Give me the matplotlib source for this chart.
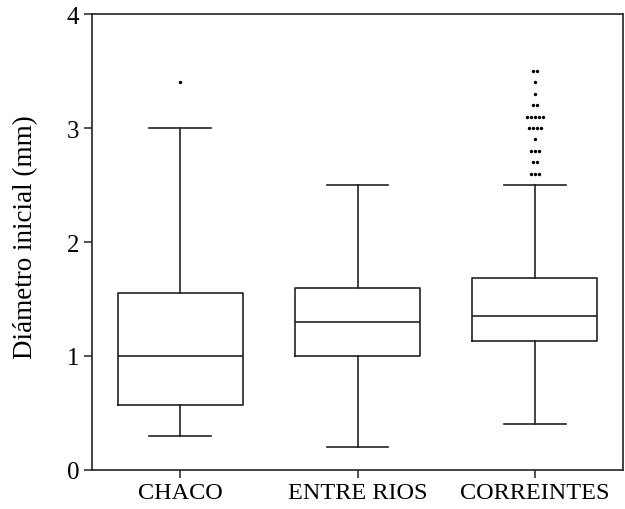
import matplotlib
matplotlib.use("Agg")
import matplotlib.pyplot as plt
import numpy as np

plt.rcParams['font.family'] = ['Liberation Serif', 'DejaVu Serif']

categories = ["CHACO", "ENTRE RIOS", "CORREINTES"]
whis_low = [0.30, 0.20, 0.40]
q1 = [0.57, 1.00, 1.13]
median = [1.00, 1.30, 1.35]
q3 = [1.55, 1.60, 1.68]
whis_high = [3.00, 2.50, 2.50]
# outliers: value -> count (horizontally spread dots)
outlier_values = [
    [3.4],
    [],
    [3.5, 3.4, 3.3, 3.2, 3.1, 3.0, 2.9, 2.8, 2.7, 2.6],
]
outlier_counts = [
    [1],
    [],
    [2, 1, 1, 2, 5, 4, 1, 3, 2, 3],
]

fig = plt.figure(figsize=(6.25, 5.1), dpi=100)
ax = fig.add_axes([0.147, 0.0765, 0.85, 0.894])

stats = []
for i in range(len(categories)):
    stats.append(dict(med=median[i], q1=q1[i], q3=q3[i],
                      whislo=whis_low[i], whishi=whis_high[i],
                      fliers=[], label=categories[i]))

lw = 1.2
col = '#222222'
ax.bxp(stats, positions=range(len(categories)), widths=0.71,
       showfliers=False,
       boxprops=dict(color=col, linewidth=lw),
       medianprops=dict(color=col, linewidth=lw),
       whiskerprops=dict(color=col, linewidth=lw),
       capprops=dict(color=col, linewidth=lw),
       capwidths=0.35)

spacing = 0.0226
for i in range(len(categories)):
    for v, n in zip(outlier_values[i], outlier_counts[i]):
        xs = i + (np.arange(n) - (n - 1) / 2) * spacing
        ax.scatter(xs, [v] * n, s=6, color='black', zorder=3, linewidths=0)

ax.set_xlim(-0.5, 2.5)
ax.set_ylim(0, 4)
ax.set_yticks([0, 1, 2, 3, 4])
ax.set_yticklabels(['0', '1', '2', '3', '4'], fontsize=18)
ax.set_xticks(range(len(categories)))
ax.set_xticklabels(categories, fontsize=17.5)
ax.set_ylabel('Diámetro inicial (mm)', fontsize=19.5, va='center')
ax.yaxis.set_label_coords(-0.124, 0.514)
ax.tick_params(length=6, width=1.1, color=col, direction='out', pad=3)
for s in ax.spines.values():
    s.set_linewidth(1.2)
    s.set_color(col)

fig.savefig('out.png', dpi=100)
